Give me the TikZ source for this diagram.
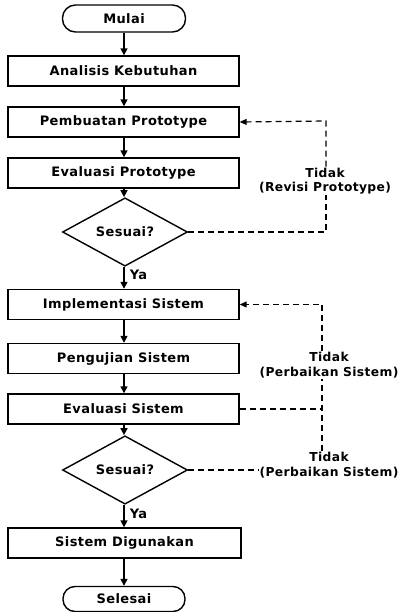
\documentclass[tikz,border=0pt]{standalone}
\usepackage{fontspec}
\setmainfont{DejaVu Sans}[BoldFont={DejaVu Sans Bold}]
\newfontfamily\lblfont{DejaVu Sans Bold}[LetterSpace=3]
\usetikzlibrary{shapes.geometric,arrows.meta}
\begin{document}
\begin{tikzpicture}[x=1pt,y=1pt,
  every node/.style={font=\lblfont\fontsize{13}{15}\selectfont},
  procbox/.style={draw,line width=1.4pt,minimum width=231,minimum height=30,inner sep=0},
  termbox/.style={draw,line width=1.4pt,rounded corners=13,minimum width=123,minimum height=27,inner sep=0},
  decbox/.style={draw,diamond,line width=1.4pt,minimum width=125,minimum height=48,inner sep=0},
  flow/.style={line width=1.5pt,-{Triangle[length=7pt,width=7pt]}},
  back/.style={line width=1.2pt,dash pattern=on 6pt off 4pt},
  backarr/.style={back,-{Triangle[length=7pt,width=6pt]}},
  lbl/.style={align=center,inner sep=1pt,font=\lblfont\fontsize{12.3}{14.5}\selectfont}]
\useasboundingbox (0,0) rectangle (401,-612);
\node[termbox] (mulai) at (124,-18.5) {Mulai};
\node[procbox] (a1) at (123.5,-71) {Analisis Kebutuhan};
\node[procbox] (a2) at (123.5,-122) {Pembuatan Prototype};
\node[procbox] (a3) at (123.5,-173) {Evaluasi Prototype};
\node[decbox] (d1) at (125,-232) {Sesuai?};
\node[procbox] (b1) at (123.5,-304.5) {Implementasi Sistem};
\node[procbox] (b2) at (123.5,-358.5) {Pengujian Sistem};
\node[procbox] (b3) at (123.5,-409) {Evaluasi Sistem};
\node[decbox] (d2) at (125,-470) {Sesuai?};
\node[procbox,minimum width=233] (b4) at (124.5,-543) {Sistem Digunakan};
\node[termbox,minimum width=122,minimum height=25,rounded corners=12] (selesai) at (124,-599) {Selesai};

\node[lbl] (l1) at (325,-181) {Tidak\\(Revisi Prototype)};
\node[lbl] (l2) at (329,-365) {Tidak\\(Perbaikan Sistem)};
\node[lbl] (l3) at (329,-465) {Tidak\\(Perbaikan Sistem)};

\draw[flow] (mulai.south -| 124,0) -- (a1.north -| 124,0);
\draw[flow] (a1.south -| 124,0) -- (a2.north -| 124,0);
\draw[flow] (a2.south -| 124,0) -- (a3.north -| 124,0);
\draw[flow] (a3.south -| 124,0) -- (d1.north -| 124,0);
\draw[flow] (d1.south -| 124,0) -- node[right,xshift=4pt,yshift=3pt,inner sep=1pt] (ya1) {Ya} (b1.north -| 124,0);
\draw[flow] (b1.south -| 124,0) -- (b2.north -| 124,0);
\draw[flow] (b2.south -| 124,0) -- (b3.north -| 124,0);
\draw[flow] (b3.south -| 124,0) -- (d2.north -| 124,0);
\draw[flow] (d2.south -| 124,0) -- node[right,xshift=4pt,yshift=2pt,inner sep=1pt] (ya2) {Ya} (b4.north -| 124,0);
\draw[flow] (b4.south -| 124,0) -- (selesai.north -| 124,0);

\coordinate (c1) at (326,-121);
\draw[back] (d1.east) -- (d1.east -| c1) -- (l1.south -| c1);
\draw[backarr] (l1.north -| c1) -- (c1) -- (a2.east);

\coordinate (c2) at (322,-304.5);
\draw[backarr] (l2.north -| c2) -- (c2) -- (b1.east);
\draw[back] (l3.north -| c2) -- (l2.south -| c2);
\draw[back] (b3.east) -- (b3.east -| c2);
\draw[back] (d2.east) -- (l3.west |- d2.east);
\end{tikzpicture}
\end{document}
